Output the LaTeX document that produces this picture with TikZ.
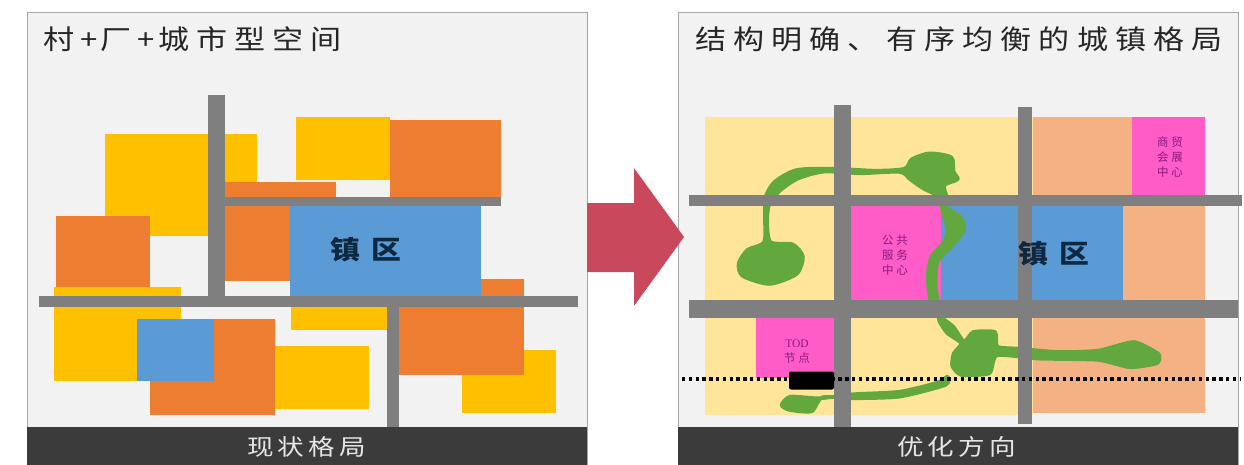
\documentclass[tikz,border=0pt]{standalone}
\usepackage{fontspec}
\setmainfont{Noto Sans CJK SC}
\newfontfamily\titlecjk[LetterSpace=23]{Noto Sans CJK SC}
\newfontfamily\barcjk[LetterSpace=15]{Noto Sans CJK SC}
\newfontfamily\zhencjk[LetterSpace=35]{Noto Sans CJK SC}
\newfontfamily\smallcjk[LetterSpace=25]{Noto Sans CJK SC}
\newfontfamily\todfont{Liberation Serif}
\definecolor{panelbg}{HTML}{F2F2F2}
\definecolor{panelline}{HTML}{A6A6A6}
\definecolor{barc}{HTML}{3B3B3B}
\definecolor{yel}{HTML}{FFC000}
\definecolor{org}{HTML}{ED7D31}
\definecolor{blu}{HTML}{5B9BD5}
\definecolor{road}{HTML}{7F7F7F}
\definecolor{lyel}{HTML}{FEE599}
\definecolor{lorg}{HTML}{F4B183}
\definecolor{pnk}{HTML}{FF5CC8}
\definecolor{grn}{HTML}{63A83E}
\definecolor{arr}{HTML}{C9485B}
\definecolor{darkt}{HTML}{0E2841}
\definecolor{purp}{HTML}{8A1A80}
\tikzset{
  panel/.style={fill=panelbg,draw=panelline,line width=1pt},
  titletext/.style={inner sep=0pt,anchor=west,xscale=1.15,text=black!85,font=\titlecjk\fontsize{27}{27}\selectfont},
  bartext/.style={inner sep=0pt,xscale=1.18,text=white!90!black,font=\barcjk\fontsize{22.5}{22.5}\selectfont},
  zhentext/.style={inner sep=0pt,xscale=1.15,text=darkt,font=\zhencjk\bfseries\fontsize{26}{26}\selectfont},
  smalltext/.style={inner sep=0pt,align=center,text=purp,font=\smallcjk\fontsize{11.5}{15}\selectfont},
  greenblob/.style={fill=grn,draw=grn,line width=3.6pt,line join=round}
}
\begin{document}
\begin{tikzpicture}[x=1pt,y=-1pt]
\useasboundingbox (0,0) rectangle (1244,465);
\fill[white] (0,0) rectangle (1244,465);
% left panel
\draw[panel] (27,13) rectangle (587,465);
\fill[yel] (105,134) rectangle (257,236);
\fill[org] (56,216) rectangle (150,287);
\fill[yel] (54,287) rectangle (181,381);
\fill[org] (150,319) rectangle (275,415);
\fill[blu] (137,319) rectangle (214,381);
\fill[yel] (275,346) rectangle (369,409);
\fill[yel] (296,117) rectangle (390,180);
\fill[org] (390,120) rectangle (501,197);
\fill[org] (225,182) rectangle (336,197);
\fill[org] (225,206) rectangle (290,281);
\fill[yel] (291,307) rectangle (387,330);
\fill[yel] (462,350) rectangle (556,413);
\fill[org] (399,279) rectangle (524,375);
\fill[blu] (290,206) rectangle (481,296);
\fill[road] (225,197) rectangle (501,206);
\fill[road] (208,95) rectangle (225,296);
\fill[road] (39,296) rectangle (578,307);
\fill[road] (387,307) rectangle (399,427);
\fill[barc] (27,427) rectangle (587,465);
\node[titletext] (ltitle) at (43,39) {村\kern5pt+\kern3pt厂\kern5pt+\kern3pt城市型空间};
\node[zhentext] (lzhen) at (366,250) {镇区};
\node[bartext] (lbar) at (306.5,447) {现状格局};
% right panel
\draw[panel] (678,13) rectangle (1238,465);
% arrow
\fill[arr] (587,203) -- (634,203) -- (634,168) -- (684,237) -- (634,306) -- (634,272) -- (587,272) -- cycle;
\fill[lyel] (705,117) rectangle (1033,415);
\fill[lorg] (1033,117) rectangle (1205,413);
\fill[pnk] (1132,117) rectangle (1205,195);
\fill[pnk] (850,206) rectangle (941,300);
\fill[blu] (941,206) rectangle (1123,300);
\fill[pnk] (756,318) rectangle (834,378);
% green shapes, in a 2.52 x 3 grid
\begin{scope}[shift={(622pt,0pt)},x=0.3968pt,y=-0.3333pt]
\fill[greenblob] plot[smooth cycle,tension=0.45] coordinates {
 (362,590) (385,545) (440,510) (530,506) (640,512) (712,506) (730,478) (775,460) (830,472) (836,515) (846,538) (812,556) (818,590)
 (805,590) (760,566) (726,538) (700,516) (600,520) (510,515) (445,535) (400,570) (372,610) (366,660) (374,726)
 (430,733) (456,770) (440,822) (372,852) (304,828) (294,790) (316,750) (358,726) (360,650)};
\fill[greenblob] plot[smooth cycle,tension=0.45] coordinates {
 (808,590) (820,600) (820,625) (854,652) (862,690) (832,738) (796,785) (790,850) (795,905) (778,905) (770,830) (780,770) (810,728) (820,690) (805,620)};
\fill[greenblob] plot[smooth cycle,tension=0.35] coordinates {
 (800,950) (835,980) (862,1025) (885,996) (940,996) (946,1040) (1000,1046) (1100,1056) (1200,1052) (1290,1026) (1352,1062) (1348,1090) (1280,1102) (1200,1080) (1050,1076) (945,1066) (926,1120) (855,1125) (832,1098) (836,1060) (855,1030) (820,1000) (800,965)};
\fill[greenblob] plot[smooth cycle,tension=0.4] coordinates {
 (820,1130) (815,1155) (700,1190) (580,1195) (505,1192) (478,1234) (422,1230) (402,1215) (424,1190) (500,1195) (580,1183) (700,1175) (795,1148)};
\end{scope}
% roads
\fill[road] (689,195) rectangle (1242,206);
\fill[road] (689,300) rectangle (1238,318);
\fill[road] (834,105) rectangle (851,427);
\fill[road] (1018,107) rectangle (1032,424);
\fill[barc] (678,427) rectangle (1238,465);
% rail line
\coordinate (railw) at (682,379);
\coordinate (raile) at (1241,379);
\draw[black,line width=3.6pt,dash pattern=on 3.4pt off 3.4pt] (railw) -- (raile);
\node[fill=black,rounded corners=2pt,minimum width=45pt,minimum height=18pt,inner sep=0pt] (station) at (811.5,380.5) {};
\node[titletext] (rtitle) at (695,39) {结构明确、有序均衡的城镇格局};
\node[zhentext] (rzhen) at (1054,254) {镇区};
\node[smalltext] (pub) at (895,255) {公共\\服务\\中心};
\node[smalltext] (trade) at (1170,157) {商贸\\会展\\中心};
\node[smalltext] (tod) at (797,352) {{\todfont TOD}\\节点};
\node[bartext] (rbar) at (956.5,447) {优化方向};
\end{tikzpicture}
\end{document}
